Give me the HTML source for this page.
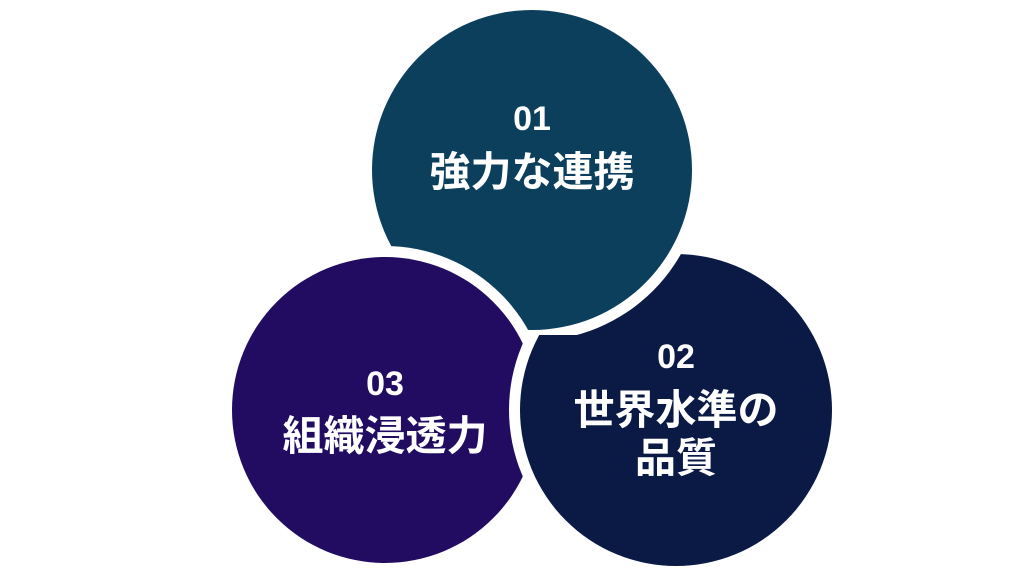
<!DOCTYPE html>
<html><head><meta charset="utf-8"><style>
body{margin:0;background:#fff;}
svg text{font-family:"Liberation Sans","Noto Sans CJK JP",sans-serif;font-weight:bold;fill:#fff;text-anchor:middle;}
</style></head><body>
<svg width="1024" height="576" viewBox="0 0 1024 576">
<defs><clipPath id="low"><rect x="0" y="335" width="1024" height="300"/></clipPath></defs>
<circle cx="676" cy="410" r="156" fill="#0a1a45"/>
<circle cx="532" cy="170" r="171" fill="#fff"/>
<circle cx="532" cy="170" r="160" fill="#0b3f5c"/>
<circle cx="385" cy="410" r="164" fill="#fff"/>
<circle cx="385" cy="410" r="153" fill="#220c62"/>
<g clip-path="url(#low)">
<circle cx="676" cy="410" r="167" fill="#fff"/>
<circle cx="676" cy="410" r="156" fill="#0a1a45"/>
</g>
<text x="532" y="130" font-size="34">01</text>
<text x="532" y="186" font-size="41">強力な連携</text>
<text x="676" y="368" font-size="34">02</text>
<text x="676" y="424" font-size="41">世界水準の</text>
<text x="676" y="472" font-size="41">品質</text>
<text x="385" y="395" font-size="34">03</text>
<text x="385" y="450" font-size="41">組織浸透力</text>
</svg>
</body></html>
